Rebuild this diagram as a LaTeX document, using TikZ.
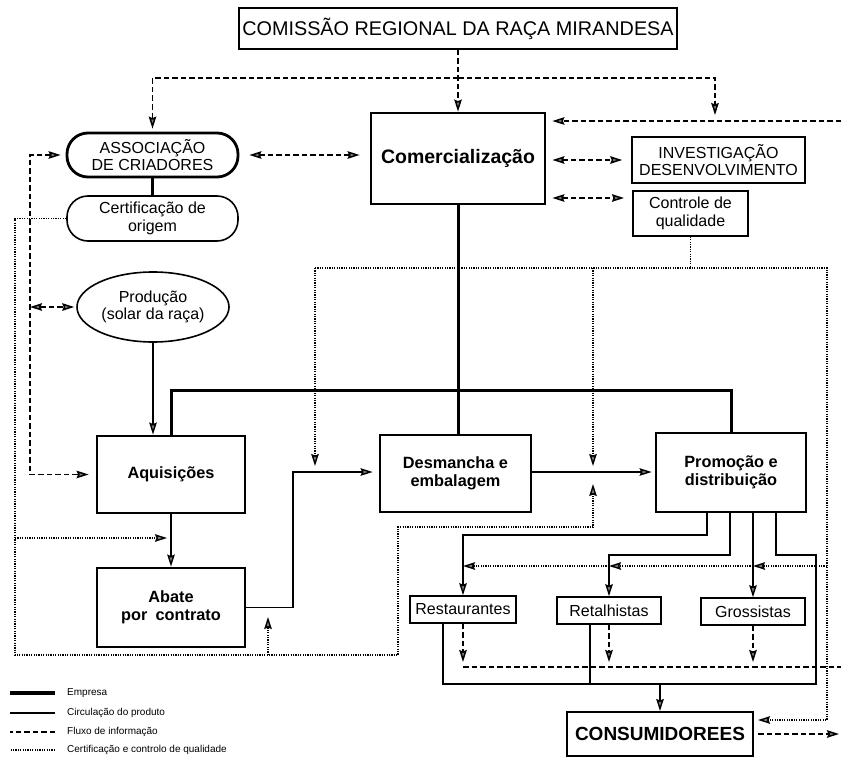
\documentclass[tikz,border=0pt]{standalone}
\usepackage{fontspec}
\setmainfont{Liberation Sans}
\usetikzlibrary{arrows.meta,shapes.geometric}

\begin{document}
\begin{tikzpicture}[x=1pt,y=-1pt,
    firm/.style={draw, line width=2.8pt, inner sep=0pt, align=center, font=\bfseries\fontsize{16.3}{18.5}\selectfont},
    org/.style={draw, line width=1.6pt, inner sep=0pt, align=center, font=\fontsize{16}{17.5}\selectfont},
    pill/.style={org, rounded corners=21pt},
    legend/.style={anchor=west, inner sep=0pt, font=\fontsize{10}{12}\selectfont},
    emp/.style={line width=3pt},
    prodl/.style={line width=1.4pt},
    info/.style={line width=1.5pt, dash pattern=on 5.5pt off 3pt},
    qual/.style={line width=1.4pt, dash pattern=on 1.2pt off 1.2pt},
    >={Stealth[length=12pt,width=7.5pt,inset=1.5pt,fill=black!50]}]
    \useasboundingbox (0,0) rectangle (841,760);

    % Nodes
    \node[org, line width=1.4pt, minimum width=438pt, minimum height=41pt, font=\fontsize{19.8}{21}\selectfont] (crm) at (458,28.5) {COMISSÃO REGIONAL DA RAÇA MIRANDESA};
    \node[firm, minimum width=174pt, minimum height=91pt, font=\bfseries\fontsize{19.5}{20}\selectfont] (com) at (458,158.5) {Comercialização};
    \node[pill, line width=2.8pt, minimum width=171pt, minimum height=44pt] (assoc) at (152.5,155) {ASSOCIAÇÃO\\DE CRIADORES};
    \node[pill, minimum width=171pt, minimum height=45pt] (cert) at (152.5,218.5) {Certificação de\\origem};
    \node[org, minimum width=173pt, minimum height=46pt] (inv) at (718.5,160) {INVESTIGAÇÃO\\DESENVOLVIMENTO};
    \node[org, minimum width=115pt, minimum height=45pt] (ctrl) at (690.5,213.5) {Controle de\\qualidade};
    \node[org, ellipse, minimum width=152pt, minimum height=70pt] (prod) at (153,307) {Produção\\(solar da raça)};
    \node[firm, minimum width=148pt, minimum height=77pt] (aqu) at (171,474.5) {Aquisições};
    \node[firm, minimum width=151pt, minimum height=77pt] (desm) at (455.5,473.5) {Desmancha e\\embalagem};
    \node[firm, minimum width=150pt, minimum height=79pt] (promo) at (731,472.5) {Promoção e\\distribuição};
    \node[firm, minimum width=148pt, minimum height=79pt] (abate) at (171,607.5) {Abate\\por\enspace contrato};
    \node[org, minimum width=106pt, minimum height=27pt] (rest) at (463,609.5) {Restaurantes};
    \node[org, minimum width=104pt, minimum height=27pt] (ret) at (609,610.5) {Retalhistas};
    \node[org, minimum width=104pt, minimum height=27pt] (gros) at (753,611.5) {Grossistas};
    \node[org, line width=2pt, minimum width=186pt, minimum height=44pt, font=\bfseries\fontsize{19}{20}\selectfont] (cons) at (660,734) {CONSUMIDOREES};

    % Legend
    \node[legend] (lgemp) at (67,693) {Empresa};
    \node[legend] (lgcirc) at (67,713) {Circulação do produto};
    \node[legend] (lginfo) at (67,732) {Fluxo de informação};
    \node[legend] (lgqual) at (67,750) {Certificação e controlo de qualidade};
    \draw[emp, line width=3.5pt] ([xshift=-12pt]lgemp.west) -- ++(-45,0);
    \draw[prodl] ([xshift=-12pt]lgcirc.west) -- ++(-45,0);
    \draw[info] ([xshift=-12pt]lginfo.west) -- ++(-45,0);
    \draw[qual] ([xshift=-12pt]lgqual.west) -- ++(-45,0);

    % Bends
    \coordinate (top) at (458,78);
    \coordinate (rin) at (841,121);
    \coordinate (invdn) at (715,115);
    \coordinate (lbus) at (30,155);
    \coordinate (cqin) at (633,198);
    \coordinate (ebus) at (458,390);
    \coordinate (pjoin) at (293,472);
    \coordinate (qa) at (15,655);
    \coordinate (qb) at (398,527);
    \coordinate (qc) at (15,538);
    \coordinate (qtip) at (593,484);
    \coordinate (qd) at (268,655);
    \coordinate (qabt) at (268,617);
    \coordinate (qtl) at (315,268);
    \coordinate (qtr) at (827,268);
    \coordinate (qbr) at (827,720);
    \coordinate (qm) at (827,566);
    \coordinate (pr1) at (463,535);
    \coordinate (pr2) at (609,555);
    \coordinate (pr4) at (816,555);
    \coordinate (cl) at (443,684);
    \coordinate (rb) at (590,684);
    \coordinate (ir) at (841,667);

    % Edges: empresa
    \draw[emp] (assoc.south) -- (cert.north);
    \draw[emp] (com.south) -- (com.south |- desm.north);
    \draw[emp] (aqu.north) |- (ebus) -| (promo.north);

    % Edges: informação
    \draw[info,->] (crm.south) -- (crm.south |- com.north);
    \draw[info,->,shorten >=3pt] (top) -| (assoc.north);
    \draw[info,->] (top) -| (invdn);
    \draw[info,->,shorten >=6pt] (rin) -- (rin -| com.east);
    \draw[info,<->,shorten <=10pt,shorten >=10pt] (assoc.east) -- (assoc.east -| com.west);
    \draw[info,<->,shorten <=6pt,shorten >=9pt] (com.east |- inv.west) -- (inv.west);
    \draw[info,<->,shorten <=6pt,shorten >=9pt] (com.east |- cqin) -- (cqin);
    \draw[info,<->,shorten <=5pt,shorten >=7pt] (assoc.west) -- (lbus) |- (aqu.west);
    \draw[info,<->,shorten >=2pt] (lbus |- prod.west) -- (prod.west);
    \draw[info,->,shorten >=5pt] (rest.south) -- (rest.south |- ir);
    \draw[info,->,shorten >=5pt] (ret.south) -- (ret.south |- ir);
    \draw[info,->,shorten >=5pt] (gros.south) -- (gros.south |- ir);
    \draw[info] (rest.south |- ir) -- (ir);
    \draw[info,->,shorten <=4pt,shorten >=2pt] (cons.east) -- (cons.east -| ir);

    % Edges: qualidade
    \draw[qual,->] (cert.west) -| (qa) -| (qb) -| (qtip);
    \draw[qual,->,shorten >=4pt] (qc) -- (qc -| aqu.south);
    \draw[qual,->] (qd) -- (qabt);
    \draw[qual] (ctrl.south) -- (ctrl.south |- qtl);
    \draw[qual,->,shorten >=6pt] (qtl) -- (qtl |- pjoin);
    \draw[qual,->,shorten >=6pt] (qtip |- qtl) -- (qtip |- pjoin);
    \draw[qual,->,shorten >=4pt] (qtl) -- (qtr) -- (qbr) -- (qbr -| cons.east);
    \draw[qual,->] (qm) -- (qm -| gros.north);
    \draw[qual,->] (qm -| gros.north) -- (qm -| ret.north);
    \draw[qual,->] (qm -| ret.north) -- (qm -| rest.north);

    % Edges: produto
    \draw[prodl,->] (prod.south) -- (prod.south |- aqu.north);
    \draw[prodl,->] (aqu.south) -- (abate.north);
    \draw[prodl,->,shorten >=6pt] (abate.east) -| (pjoin) -- (pjoin -| desm.west);
    \draw[prodl,->,shorten >=3pt] (desm.east |- pjoin) -- (pjoin -| promo.west);
    \draw[prodl,->] ([xshift=-24pt]promo.south) |- (pr1) -- (rest.north);
    \draw[prodl,->] ([xshift=-1pt]promo.south) |- (pr2) -- (ret.north);
    \draw[prodl,->] (gros.north |- promo.south) -- (gros.north);
    \draw[prodl] ([xshift=45pt]promo.south) |- (pr4) |- (cl) -- (cl |- rest.south);
    \draw[prodl] (rb) -- (rb |- ret.south);
    \draw[prodl,->] (cons.north |- cl) -- (cons.north);
\end{tikzpicture}
\end{document}
